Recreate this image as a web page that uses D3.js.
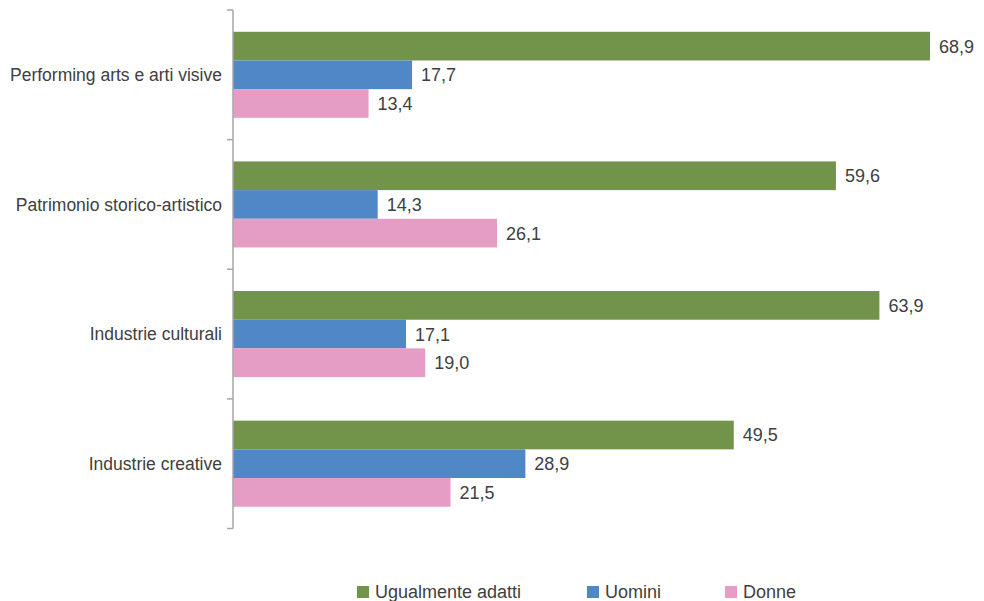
<!DOCTYPE html>
<html>
<head>
<meta charset="utf-8">
<script src="https://cdn.jsdelivr.net/npm/d3@7/dist/d3.min.js"></script>
<style>
  html, body { margin: 0; padding: 0; background: #fff; }
  text { font-family: "Liberation Sans", Arial, sans-serif; fill: #404040; }
</style>
</head>
<body>
<svg id="chart" width="984" height="601"></svg>
<script>
// Sector categories (top to bottom)
const categories = [
  "Performing arts e arti visive",
  "Patrimonio storico-artistico",
  "Industrie culturali",
  "Industrie creative"
];
// Series names, colours and values (%)
const seriesNames = ["Ugualmente adatti", "Uomini", "Donne"];
const seriesColors = ["#71934A", "#5087C7", "#E59CC5"];
const ugualmente = [68.9, 59.6, 63.9, 49.5];
const uomini = [17.7, 14.3, 17.1, 28.9];
const donne = [13.4, 26.1, 19.0, 21.5];
const seriesValues = [ugualmente, uomini, donne];

const svg = d3.select("#chart");
const x0 = 233, yTop = 10, yBot = 528.5;

const x = d3.scaleLinear().domain([0, 68.9]).range([x0, 930]);
const y = d3.scaleBand().domain(categories).range([yTop, yBot]);
const inner = d3.scaleBand().domain(seriesNames)
  .range([0, y.bandwidth()]).paddingOuter(0.76);

const fmt = v => d3.format(".1f")(v).replace(".", ",");

// Bars and value labels
categories.forEach((cat, ci) => {
  const g = svg.append("g").attr("transform", `translate(0,${y(cat)})`);
  seriesNames.forEach((s, si) => {
    const v = seriesValues[si][ci];
    g.append("rect")
      .attr("x", x(0))
      .attr("y", inner(s))
      .attr("width", x(v) - x(0))
      .attr("height", inner.bandwidth())
      .attr("fill", seriesColors[si]);
    g.append("text")
      .attr("x", x(v) + 9)
      .attr("y", inner(s) + inner.bandwidth() / 2)
      .attr("dy", "0.36em")
      .attr("font-size", 18)
      .text(fmt(v));
  });
});

// Category axis with boundary ticks
const ticksAt = d3.range(categories.length + 1).map(i => yTop + i * y.step());
const axis = svg.append("g");
axis.append("line")
  .attr("x1", x0).attr("x2", x0)
  .attr("y1", yTop).attr("y2", yBot)
  .attr("stroke", "#A6A6A6").attr("stroke-width", 1.5);
axis.selectAll("line.tick").data(ticksAt).join("line")
  .attr("class", "tick")
  .attr("x1", x0 - 6).attr("x2", x0)
  .attr("y1", d => d).attr("y2", d => d)
  .attr("stroke", "#A6A6A6").attr("stroke-width", 1.5);
axis.selectAll("text.cat").data(categories).join("text")
  .attr("class", "cat")
  .attr("x", x0 - 11)
  .attr("y", d => y(d) + y.bandwidth() / 2)
  .attr("dy", "0.36em")
  .attr("text-anchor", "end")
  .attr("font-size", 17.5)
  .text(d => d);

// Legend
const legendX = [357, 587, 725];
const legend = svg.append("g");
seriesNames.forEach((s, i) => {
  legend.append("rect")
    .attr("x", legendX[i]).attr("y", 586)
    .attr("width", 12).attr("height", 12)
    .attr("fill", seriesColors[i]);
  legend.append("text")
    .attr("x", legendX[i] + 18).attr("y", 591.5)
    .attr("dy", "0.36em")
    .attr("font-size", 18)
    .text(s);
});
</script>
</body>
</html>
